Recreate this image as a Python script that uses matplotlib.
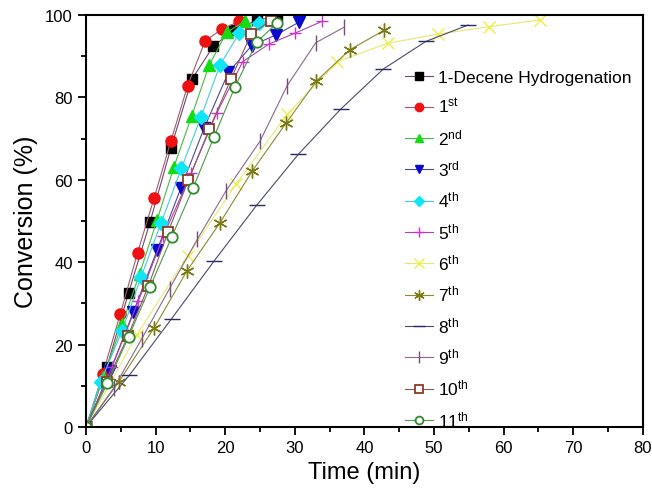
import numpy as np
import matplotlib.pyplot as plt

plt.rcParams['font.family'] = ['Liberation Sans', 'DejaVu Sans']
plt.rcParams['mathtext.fontset'] = 'custom'
plt.rcParams['mathtext.rm'] = 'Liberation Sans'
plt.rcParams['mathtext.it'] = 'Liberation Sans:italic'

# ----- DATA -----
labels = ["1-Decene Hydrogenation", r"1$^{\rm st}$", r"2$^{\rm nd}$", r"3$^{\rm rd}$",
          r"4$^{\rm th}$", r"5$^{\rm th}$", r"6$^{\rm th}$", r"7$^{\rm th}$",
          r"8$^{\rm th}$", r"9$^{\rm th}$", r"10$^{\rm th}$", r"11$^{\rm th}$"]

t_decene = [0, 3.0, 6.1, 9.2, 12.2, 15.2, 18.3, 21.3, 24.5, 27.5]
c_decene = [0, 14.6, 32.5, 49.8, 67.8, 84.4, 92.5, 96.4, 98.7, 99.9]

t_1st = [0, 2.4, 4.9, 7.4, 9.8, 12.2, 14.6, 17.1, 19.5, 22.0]
c_1st = [0, 12.9, 27.3, 42.3, 55.7, 69.5, 82.9, 93.7, 96.6, 98.5]

t_2nd = [0, 2.5, 5.2, 7.7, 10.2, 12.6, 15.2, 17.7, 20.2, 22.8]
c_2nd = [0, 12.2, 25.0, 37.2, 50.2, 63.0, 75.6, 87.9, 95.8, 98.5]

t_3rd = [0, 3.45, 6.8, 10.2, 13.6, 16.95, 20.45, 23.8, 27.3, 30.6]
c_3rd = [0, 13.5, 27.9, 42.9, 57.9, 72.5, 86.1, 92.6, 95.2, 98.3]

t_4th = [0, 2.1, 5.2, 7.9, 10.8, 13.7, 16.5, 19.25, 22.0, 24.9]
c_4th = [0, 11.0, 23.4, 36.4, 49.6, 62.8, 75.2, 87.9, 95.6, 98.2]

t_5th = [0, 3.7, 7.5, 11.1, 15.1, 18.8, 22.5, 26.3, 30.0, 33.9]
c_5th = [0, 14.5, 30.5, 46.3, 61.6, 76.3, 88.7, 93.0, 95.6, 98.5]

t_6th = [0, 7.3, 14.6, 21.6, 28.9, 36.1, 43.4, 50.6, 57.9, 65.2]
c_6th = [0, 22.4, 41.5, 59.1, 75.9, 88.7, 93.2, 95.4, 97.2, 98.8]

t_7th = [0, 4.7, 9.8, 14.5, 19.25, 23.9, 28.7, 33.1, 37.9, 42.8]
c_7th = [0, 10.9, 24.1, 37.9, 49.6, 62.2, 73.7, 84.0, 91.6, 96.3]

t_8th = [0, 6.2, 12.3, 18.4, 24.5, 30.5, 36.6, 42.7, 48.8, 54.9]
c_8th = [0, 12.5, 26.3, 40.3, 53.8, 66.2, 77.2, 86.9, 93.6, 97.6]

t_9th = [0, 4.0, 8.0, 12.0, 16.0, 20.1, 25.0, 28.9, 33.0, 37.0]
c_9th = [0, 9.5, 21.4, 33.6, 45.6, 57.3, 69.4, 82.9, 93.3, 97.0]

t_10th = [0, 3.0, 6.0, 8.95, 11.8, 14.7, 17.7, 20.8, 23.7, 26.5]
c_10th = [0, 11.0, 22.0, 34.2, 47.4, 59.9, 72.3, 84.4, 95.4, 98.6]

t_11th = [0, 3.06, 6.1, 9.2, 12.3, 15.4, 18.4, 21.4, 24.5, 27.5]
c_11th = [0, 10.6, 21.8, 34.0, 46.1, 58.1, 70.5, 82.6, 93.4, 98.2]

times = [t_decene, t_1st, t_2nd, t_3rd, t_4th, t_5th, t_6th, t_7th, t_8th, t_9th, t_10th, t_11th]
convs = [c_decene, c_1st, c_2nd, c_3rd, c_4th, c_5th, c_6th, c_7th, c_8th, c_9th, c_10th, c_11th]

# ----- STYLE -----
markers = ['s', 'o', '^', 'v', 'D', '+', 'x', (6, 2, 0), '_', '|', 's', 'o']
mcolors = ['black', '#ee1111', '#11dd11', '#0a0acc', '#11e5f5', '#cc33cc',
           '#eeee44', '#7a7a10', '#2a2a60', '#7a4a7a', '#8b3a2a', '#2e8b2e']
lcolors = ['#6a4a6a', '#a05a70', '#44bb44', '#4a4a9a', '#44ccdd', '#aa44aa',
           '#e8e870', '#8a8a30', '#4a4a6a', '#8a6a8a', '#8b5a5a', '#4a9a4a']
msizes = [7, 8, 8, 8, 7, 9, 9, 10, 11, 11, 7.5, 7.5]
faces = ['full'] * 10 + ['none', 'none']

fig = plt.figure(figsize=(6.52, 4.89), dpi=100)
ax = fig.add_axes([0.132, 0.125, 0.854, 0.842])

for i in range(len(labels)):
    mfc = 'white' if faces[i] == 'none' else mcolors[i]
    ax.plot(times[i], convs[i], color=lcolors[i], lw=0.8,
            marker=markers[i], markersize=msizes[i], markerfacecolor=mfc,
            markeredgecolor=mcolors[i], markeredgewidth=1.3 if faces[i] == 'none' else 1.0,
            label=labels[i])

ax.set_xlim(0, 80)
ax.set_ylim(0, 100)
ax.set_xticks(np.arange(0, 81, 10))
ax.set_xticks(np.arange(5, 80, 10), minor=True)
ax.set_yticks(np.arange(0, 101, 20))
ax.set_yticks(np.arange(10, 100, 20), minor=True)
ax.tick_params(axis='both', which='major', direction='out', length=6, width=1.3, labelsize=12)
ax.tick_params(axis='both', which='minor', direction='out', length=3.5, width=1.3)
for s in ax.spines.values():
    s.set_linewidth(1.5)

ax.set_xlabel("Time (min)", fontsize=17, labelpad=4)
ax.set_ylabel("Conversion (%)", fontsize=18, labelpad=5)

leg = ax.legend(loc='upper left', bbox_to_anchor=(0.56, 0.885), frameon=False,
                fontsize=12.5, handlelength=1.6, handletextpad=0.3,
                labelspacing=0.66, borderaxespad=0, markerscale=0.75)

plt.savefig("out.png", dpi=100)
plt.close()
